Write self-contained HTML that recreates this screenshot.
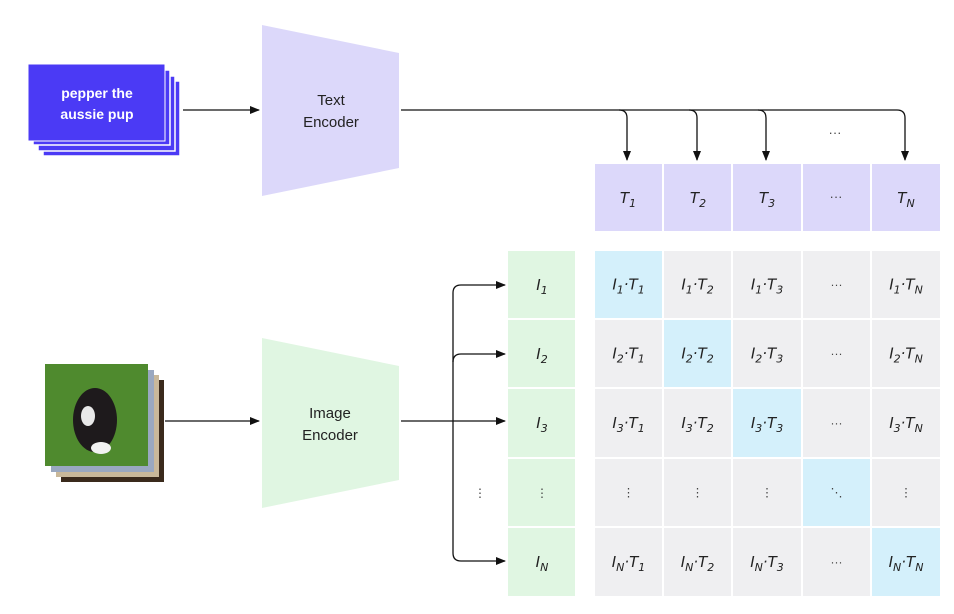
<!DOCTYPE html>
<html><head><meta charset="utf-8"><style>
body{margin:0;background:#fff;}
svg text{font-family:"Liberation Sans",sans-serif;}
.m{font-family:"DejaVu Sans","Liberation Sans",sans-serif;font-style:italic;font-size:15px;fill:#222;text-anchor:middle;}
</style></head><body>
<svg width="954" height="609" viewBox="0 0 954 609" xmlns="http://www.w3.org/2000/svg">
<defs><marker id="a" markerWidth="10" markerHeight="8" refX="9" refY="4" orient="auto" markerUnits="userSpaceOnUse"><path d="M0,0 L10,4 L0,8 z" fill="#111"/></marker></defs>
<!-- text cards -->
<rect x="43" y="81" width="137" height="75" fill="#4b3af5" stroke="#fff" stroke-width="1.5"/>
<rect x="38" y="76" width="137" height="75" fill="#4b3af5" stroke="#fff" stroke-width="1.5"/>
<rect x="33" y="70" width="137" height="75" fill="#4b3af5" stroke="#fff" stroke-width="1.5"/>
<rect x="28" y="64" width="137" height="77" fill="#4b3af5" stroke="#fff" stroke-width="1"/>
<text x="97" y="98" fill="#fff" font-weight="bold" font-size="14" text-anchor="middle">pepper the</text>
<text x="97" y="119" fill="#fff" font-weight="bold" font-size="14" text-anchor="middle">aussie pup</text>
<line x1="183" y1="110" x2="259" y2="110" stroke="#111" stroke-width="1.3" marker-end="url(#a)"/>
<polygon points="262,25 399,53 399,168 262,196" fill="#dcd8fa"/>
<text x="331" y="105" font-size="15" fill="#222" text-anchor="middle">Text</text>
<text x="331" y="127" font-size="15" fill="#222" text-anchor="middle">Encoder</text>
<!-- top connectors -->
<g fill="none" stroke="#111" stroke-width="1.3">
<path d="M401,110 H897 Q905,110 905,118 V160" marker-end="url(#a)"/>
<path d="M619,110 Q627,110 627,118 V160" marker-end="url(#a)"/>
<path d="M689,110 Q697,110 697,118 V160" marker-end="url(#a)"/>
<path d="M758,110 Q766,110 766,118 V160" marker-end="url(#a)"/>
</g>
<text x="835" y="137" font-size="13" fill="#444" text-anchor="middle">···</text>
<!-- T row -->
<g fill="#dcd8fa">
<rect x="595" y="164" width="67" height="67"/><rect x="664" y="164" width="67" height="67"/><rect x="733" y="164" width="68" height="67"/><rect x="803" y="164" width="67" height="67"/><rect x="872" y="164" width="68" height="67"/>
</g>
<text class="m" x="628" y="203">T<tspan font-size="11" dy="4">1</tspan></text>
<text class="m" x="698" y="203">T<tspan font-size="11" dy="4">2</tspan></text>
<text class="m" x="767" y="203">T<tspan font-size="11" dy="4">3</tspan></text>
<text x="836" y="201" font-size="13" fill="#444" text-anchor="middle">···</text>
<text class="m" x="906" y="203">T<tspan font-size="11" dy="4">N</tspan></text>
<!-- I column -->
<g fill="#e0f6e2">
<rect x="508" y="251" width="67" height="67"/><rect x="508" y="320" width="67" height="67"/><rect x="508" y="389" width="67" height="68"/><rect x="508" y="459" width="67" height="67"/><rect x="508" y="528" width="67" height="68"/>
</g>
<text class="m" x="542" y="290">I<tspan font-size="11" dy="4">1</tspan></text>
<text class="m" x="542" y="359">I<tspan font-size="11" dy="4">2</tspan></text>
<text class="m" x="542" y="428">I<tspan font-size="11" dy="4">3</tspan></text>
<text x="542" y="497" font-size="12" fill="#444" text-anchor="middle">⋮</text>
<text x="480" y="497" font-size="12" fill="#444" text-anchor="middle">⋮</text>
<text class="m" x="542" y="567">I<tspan font-size="11" dy="4">N</tspan></text>
<!-- matrix -->
<g id="mx"></g>
<!-- image -->
<rect x="61" y="380" width="103" height="102" fill="#3a2a1c"/>
<rect x="56" y="375" width="103" height="102" fill="#c9b89a"/>
<rect x="51" y="370" width="103" height="102" fill="#9aa8c0"/>
<rect x="45" y="364" width="103" height="102" fill="#4f8a2e"/>
<ellipse cx="95" cy="420" rx="22" ry="32" fill="#1e1a1c"/>
<ellipse cx="88" cy="416" rx="7" ry="10" fill="#e8e8e8"/>
<ellipse cx="101" cy="448" rx="10" ry="6" fill="#f2f2f2"/>
<line x1="165" y1="421" x2="259" y2="421" stroke="#111" stroke-width="1.3" marker-end="url(#a)"/>
<polygon points="262,338 399,366 399,480 262,508" fill="#e0f6e2"/>
<text x="330" y="418" font-size="15" fill="#222" text-anchor="middle">Image</text>
<text x="330" y="440" font-size="15" fill="#222" text-anchor="middle">Encoder</text>
<g fill="none" stroke="#111" stroke-width="1.3">
<path d="M401,421 H505" marker-end="url(#a)"/>
<path d="M453,553 V293 Q453,285 461,285 H505" marker-end="url(#a)"/>
<path d="M453,362 Q453,354 461,354 H505" marker-end="url(#a)"/>
<path d="M453,553 Q453,561 461,561 H505" marker-end="url(#a)"/>
</g>
</svg>
<script>
var g=document.getElementById('mx'),ns='http://www.w3.org/2000/svg';
var xs=[595,664,733,803,872],ws=[67,67,68,67,68],ys=[251,320,389,459,528],hs=[67,67,68,67,68];
var sub=['1','2','3','','N'];
for(var i=0;i<5;i++)for(var j=0;j<5;j++){
 var r=document.createElementNS(ns,'rect');r.setAttribute('x',xs[j]);r.setAttribute('y',ys[i]);r.setAttribute('width',ws[j]);r.setAttribute('height',hs[i]);
 r.setAttribute('fill',i==j?'#d4f0fb':'#efeff1');g.appendChild(r);
 var cx=xs[j]+ws[j]/2,cy=ys[i]+hs[i]/2+5;
 var t=document.createElementNS(ns,'text');
 if(i==3||j==3){t.setAttribute('x',cx);t.setAttribute('y',cy-1);t.setAttribute('font-size','12');t.setAttribute('fill','#444');t.setAttribute('text-anchor','middle');
  t.textContent=(i==3&&j==3)?'⋱':(i==3?'⋮':'···');}
 else{t.setAttribute('class','m');t.setAttribute('x',cx);t.setAttribute('y',cy);
  t.innerHTML='I<tspan font-size="11" dy="4">'+sub[i]+'</tspan><tspan dy="-4">·T</tspan><tspan font-size="11" dy="4">'+sub[j]+'</tspan>';}
 g.appendChild(t);}
</script>
</body></html>
